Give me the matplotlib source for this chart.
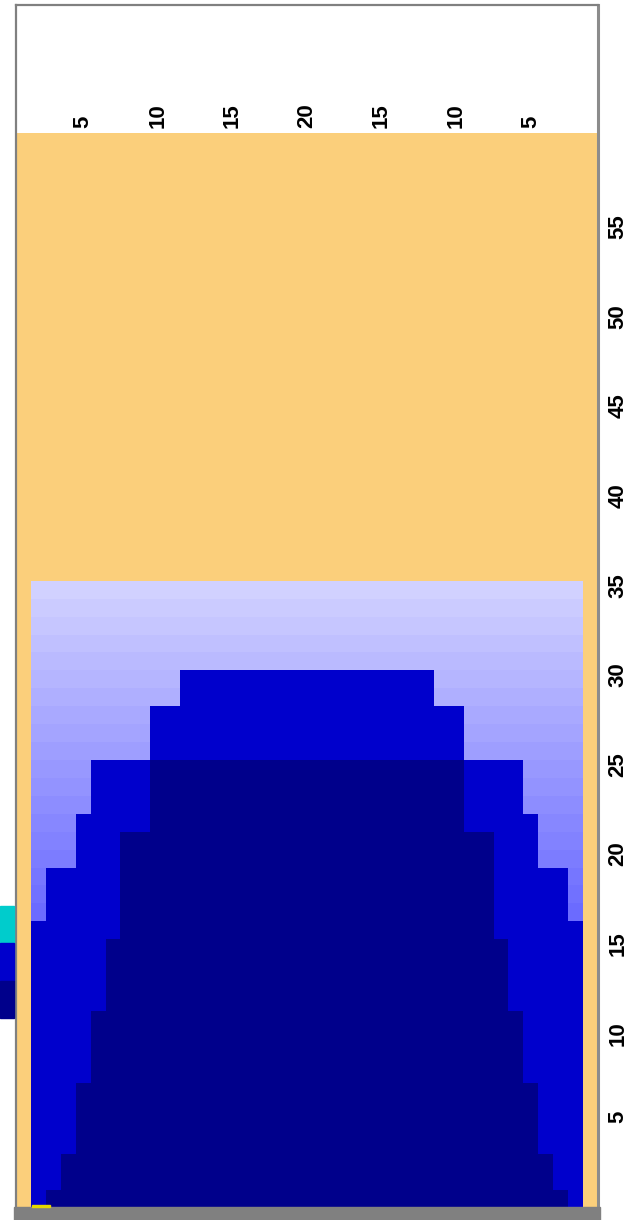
import numpy as np
import matplotlib
matplotlib.use('Agg')
import matplotlib.pyplot as plt
from matplotlib.patches import Rectangle

plt.rcParams['font.family'] = ['Liberation Sans', 'DejaVu Sans']

# data
cols = np.arange(1, 40)                      # 39 columns, outer ones are background only
inner_cols = np.arange(2, 39)                # 37 columns with data
bg_top = 60
grad_top = 35
blue_top = [16, 19, 19, 22, 25, 25, 25, 25, 28, 28] + [30] * 17 + [28, 28, 25, 25, 25, 25, 22, 19, 19, 16]
navy_top = [0, 1, 3, 7, 11, 15, 21, 21] + [25] * 21 + [21, 21, 15, 11, 7, 3, 1, 0]
x_ticks = [5, 10, 15, 20, 25, 30, 35]
x_labels = ['5', '10', '15', '20', '15', '10', '5']
y_ticks = [5, 10, 15, 20, 25, 30, 35, 40, 45, 50, 55]

W, H = 641, 1220
fig = plt.figure(figsize=(W / 100, H / 100), dpi=100)
ax = fig.add_axes([16 / W, 12 / H, 582 / W, 1203 / H])

orange = '#fbcf7b'
blue = '#0000cc'
navy = '#00008b'

ax.bar(cols, [bg_top] * len(cols), width=1.0, color=orange, linewidth=0)

# banded gradient up to 35
for k in range(grad_top):
    c = 0.42 + 0.40 * (k - 16) / 18.0
    c = min(max(c, 0.3), 0.85)
    ax.bar(inner_cols, [1] * len(inner_cols), bottom=k, width=1.0,
           color=(c, c, 1.0), linewidth=0)

ax.bar(inner_cols, blue_top, width=1.0, color=blue, linewidth=0)
ax.bar(inner_cols, navy_top, width=1.0, color=navy, linewidth=0)

ax.set_xlim(0.5, 39.5)
ax.set_ylim(0, 1203 / 17.92)
ax.set_xticks([])

for x, lab in zip(x_ticks, x_labels):
    ax.text(x, 60.25, lab, rotation=90, ha='center', va='bottom',
            fontsize=16, fontweight='bold')

ax.yaxis.tick_right()
ax.set_yticks(y_ticks)
ax.set_yticklabels([str(v) for v in y_ticks])
ax.tick_params(axis='y', length=0, pad=7, labelrotation=90, labelsize=16)
for t in ax.get_yticklabels():
    t.set_fontweight('bold')

for s in ['left', 'top']:
    ax.spines[s].set_color('#808080')
    ax.spines[s].set_linewidth(1.6)
ax.spines['right'].set_color('#8c8c8c')
ax.spines['right'].set_linewidth(2.2)
ax.spines['bottom'].set_visible(False)

# bottom gray bar
fig.patches.append(Rectangle((14 / W, 0), 586 / W, 13 / H, transform=fig.transFigure,
                             color='#808080', zorder=5))
fig.patches.append(Rectangle((32 / W, 13 / H), 18 / W, 2 / H, transform=fig.transFigure,
                             color='#e6d800', zorder=5))

# legend swatches cut at the left edge
for y0, y1, c in [(906, 943, '#00cccc'), (943, 981, blue), (981, 1018, navy)]:
    fig.patches.append(Rectangle((0, (H - y1) / H), 14 / W, (y1 - y0) / H,
                                 transform=fig.transFigure, color=c, zorder=5))

fig.savefig('out.png', dpi=100)
